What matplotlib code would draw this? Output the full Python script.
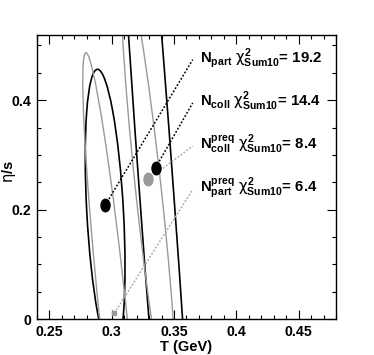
import numpy as np
import matplotlib
matplotlib.use('Agg')
import matplotlib.pyplot as plt
from matplotlib.patches import Ellipse
from matplotlib.path import Path
from matplotlib.transforms import Affine2D
from matplotlib.ticker import MultipleLocator, FuncFormatter

plt.rcParams['font.family'] = ['Liberation Sans', 'DejaVu Sans']
plt.rcParams['font.weight'] = 'bold'
plt.rcParams['mathtext.fontset'] = 'custom'
plt.rcParams['mathtext.rm'] = 'Liberation Sans:bold'
plt.rcParams['mathtext.bf'] = 'Liberation Sans:bold'
plt.rcParams['mathtext.it'] = 'DejaVu Sans:regular'

# best fit points (T in GeV, eta/s)
models = ['Npart', 'Ncoll', 'Ncoll_preq', 'Npart_preq']
best_T = [0.2947, 0.3352, 0.3293, 0.302]
best_eta = [0.208, 0.2766, 0.2553, 0.0104]
chi2 = [19.2, 14.4, 8.4, 6.4]
label_tex = [r'$\mathbf{N}_{\mathbf{part}}\;\chi^{2}_{\mathbf{Sum10}}$',
             r'$\mathbf{N}_{\mathbf{coll}}\;\chi^{2}_{\mathbf{Sum10}}$',
             r'$\mathbf{N}^{\mathbf{preq}}_{\mathbf{coll}}\;\chi^{2}_{\mathbf{Sum10}}$',
             r'$\mathbf{N}^{\mathbf{preq}}_{\mathbf{part}}\;\chi^{2}_{\mathbf{Sum10}}$']
label_eta = [0.470, 0.391, 0.312, 0.2327]
colors = ['black', 'black', '#999999', '#999999']
line_colors = ['black', 'black', '#aaaaaa', '#aaaaaa']

# 1-sigma contours: centre, half extents and correlation
cont_T = [0.2947, 0.3364, 0.3299, 0.3023]
cont_eta = [0.1956, 0.2175, 0.2267, -0.0203]
cont_sT = [0.01597, 0.04315, 0.02237, 0.02557]
cont_seta = [0.2608, 1.2795, 0.4204, 0.5070]
cont_rho = [-0.385, -0.948, -0.886, -0.9]

fig = plt.figure(figsize=(3.74, 3.55), dpi=100)
ax = fig.add_axes([0.0989, 0.1014, 0.7995, 0.8014])

for i in range(len(models)):
    cov = np.array([[cont_sT[i]**2, cont_rho[i]*cont_sT[i]*cont_seta[i]],
                    [cont_rho[i]*cont_sT[i]*cont_seta[i], cont_seta[i]**2]])
    vals, vecs = np.linalg.eigh(cov)
    ang = np.degrees(np.arctan2(vecs[1, 1], vecs[0, 1]))
    lw = 1.2 if colors[i] == 'black' else 1.0
    ax.add_patch(Ellipse((cont_T[i], cont_eta[i]), 2*np.sqrt(vals[1]), 2*np.sqrt(vals[0]),
                         angle=ang, fill=False, edgecolor=colors[i], lw=lw, zorder=2))

oval = Path.unit_circle().transformed(Affine2D().scale(0.72, 1.0))
x_line_end = 0.365
x_text = 0.3705
for i in range(len(models)):
    ax.plot([best_T[i], x_line_end], [best_eta[i], label_eta[i] + 0.004],
            color=line_colors[i], lw=1.1, ls=(0, (1.2, 1.2)), zorder=3)
    if i == 3:
        ax.plot(best_T[i], best_eta[i], marker='s', ms=3.5, color='#999999',
                mec='#999999', zorder=4, clip_on=False)
    else:
        ax.plot(best_T[i], best_eta[i], marker=oval, ms=9, color=colors[i],
                mec=colors[i], zorder=4)
    ax.text(x_text, label_eta[i], label_tex[i] + '= {}'.format(chi2[i]),
            fontsize=10.8, fontweight='bold', va='baseline', ha='left')

ax.set_xlim(0.24, 0.48)
ax.set_ylim(0, 0.52)
ax.xaxis.set_major_locator(MultipleLocator(0.05))
ax.xaxis.set_minor_locator(MultipleLocator(0.01))
ax.yaxis.set_major_locator(MultipleLocator(0.2))
ax.yaxis.set_minor_locator(MultipleLocator(0.05))
ax.xaxis.set_major_formatter(FuncFormatter(lambda v, p: '%g' % round(v, 3)))
ax.yaxis.set_major_formatter(FuncFormatter(lambda v, p: '%g' % round(v, 3)))
ax.tick_params(which='both', direction='in', top=True, right=True, width=0.8,
               labelsize=10.2, pad=4)
ax.tick_params(which='major', length=6.5)
ax.tick_params(which='minor', length=3)
for s in ax.spines.values():
    s.set_linewidth(1.0)

ax.set_xlabel('T (GeV)', fontsize=10.5, fontweight='bold')
ax.set_ylabel(r'$\eta$/s', fontsize=10.5, fontweight='bold')
ax.xaxis.set_label_coords(0.5, -0.074)
ax.yaxis.set_label_coords(-0.062, 0.52)

plt.savefig('out.png', dpi=100)
